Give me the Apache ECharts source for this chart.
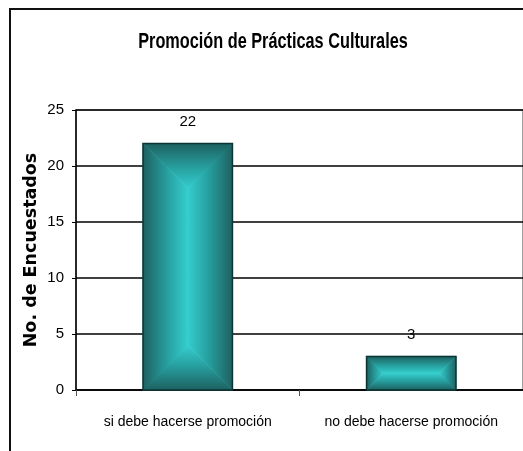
<!DOCTYPE html>
<html><head><meta charset="utf-8">
<script src="https://cdn.jsdelivr.net/npm/echarts@6/dist/echarts.min.js"></script>
<style>html,body{margin:0;padding:0;background:#fff}#c{width:523px;height:451px}</style>
</head><body><div id="c"></div>
<script>
const titleText = 'Promoción de Prácticas Culturales';
const yAxisName = 'No. de Encuestados';
const categories = ['si debe hacerse promoción', 'no debe hacerse promoción'];
const values = [22, 3];

const SANS = "'Liberation Sans', Arial, sans-serif";
const DARK = '#1e6161', MID = '#27a0a0', BRIGHT = '#35cdcd';

function lin(x1, y1, x2, y2) {
  return { type: 'linear', x: x1, y: y1, x2: x2, y2: y2, global: true,
    colorStops: [{ offset: 0, color: DARK }, { offset: 0.55, color: MID }, { offset: 1, color: BRIGHT }] };
}

function renderItem(params, api) {
  const idx = api.value(0), v = api.value(1);
  const top = api.coord([idx, v]);
  const base = api.coord([idx, 0]);
  const w = api.size([1, 0])[0] * 0.4;
  const x0 = top[0] - w / 2, x1 = top[0] + w / 2;
  const y0 = top[1], y1 = base[1];
  const d = Math.min(w / 2, (y1 - y0) / 2);
  function poly(pts, g) {
    return { type: 'polygon', shape: { points: pts }, style: { fill: g, stroke: g, lineWidth: 0.8 } };
  }
  const children = [
    poly([[x0, y0], [x0 + d, y0 + d], [x0 + d, y1 - d], [x0, y1]], lin(x0, 0, x0 + d, 0)),
    poly([[x1, y0], [x1 - d, y0 + d], [x1 - d, y1 - d], [x1, y1]], lin(x1, 0, x1 - d, 0)),
    poly([[x0, y0], [x1, y0], [x1 - d, y0 + d], [x0 + d, y0 + d]], lin(0, y0, 0, y0 + d)),
    poly([[x0, y1], [x1, y1], [x1 - d, y1 - d], [x0 + d, y1 - d]], lin(0, y1, 0, y1 - d)),
    { type: 'rect', shape: { x: x0, y: y0, width: w, height: y1 - y0 },
      style: { fill: 'none', stroke: '#0b3535', lineWidth: 1.5 } },
    { type: 'text', x: top[0], y: y0 - 14,
      style: { text: String(v), fill: '#000', font: '15px ' + SANS, align: 'center', verticalAlign: 'bottom' } }
  ];
  return { type: 'group', children: children };
}

const chart = echarts.init(document.getElementById('c'), null, { renderer: 'canvas' });
chart.setOption({
  animation: false,
  backgroundColor: '#fff',
  graphic: [
    { type: 'rect', shape: { x: 10, y: 9, width: 700, height: 700 },
      style: { fill: 'none', stroke: '#111', lineWidth: 2 }, silent: true, z: 100 },
    { type: 'text', x: 273, y: 42, scaleX: 0.74, silent: true,
      style: { text: titleText, font: 'bold 22px ' + SANS, fill: '#000', align: 'center', verticalAlign: 'middle' } }
  ],
  grid: { left: 76, top: 110, right: -3, bottom: 61, show: true, borderColor: '#808080', borderWidth: 1.5, containLabel: false },
  xAxis: {
    type: 'category', data: categories,
    axisLine: { lineStyle: { color: '#000', width: 1.5 } },
    axisTick: { show: true, alignWithLabel: false, length: 6, lineStyle: { color: '#555' } },
    axisLabel: { interval: 0, color: '#000', fontFamily: SANS, fontSize: 14, margin: 25 }
  },
  yAxis: {
    type: 'value', min: 0, max: 25, interval: 5,
    name: yAxisName, nameLocation: 'middle', nameGap: 36, nameMoveOverlap: false,
    nameTextStyle: { fontFamily: "'DejaVu Sans', sans-serif", fontWeight: 'bold', fontSize: 17.5, color: '#000' },
    axisLine: { show: true, lineStyle: { color: '#000', width: 1.5 } },
    axisTick: { show: true, length: 4, lineStyle: { color: '#000' } },
    axisLabel: { color: '#000', fontFamily: SANS, fontSize: 15, margin: 12 },
    splitLine: { lineStyle: { color: '#000', width: 1.5 } }
  },
  series: [{
    type: 'custom', renderItem: renderItem,
    encode: { x: 0, y: 1 },
    data: categories.map((c, i) => [i, values[i]])
  }]
});
</script></body></html>
